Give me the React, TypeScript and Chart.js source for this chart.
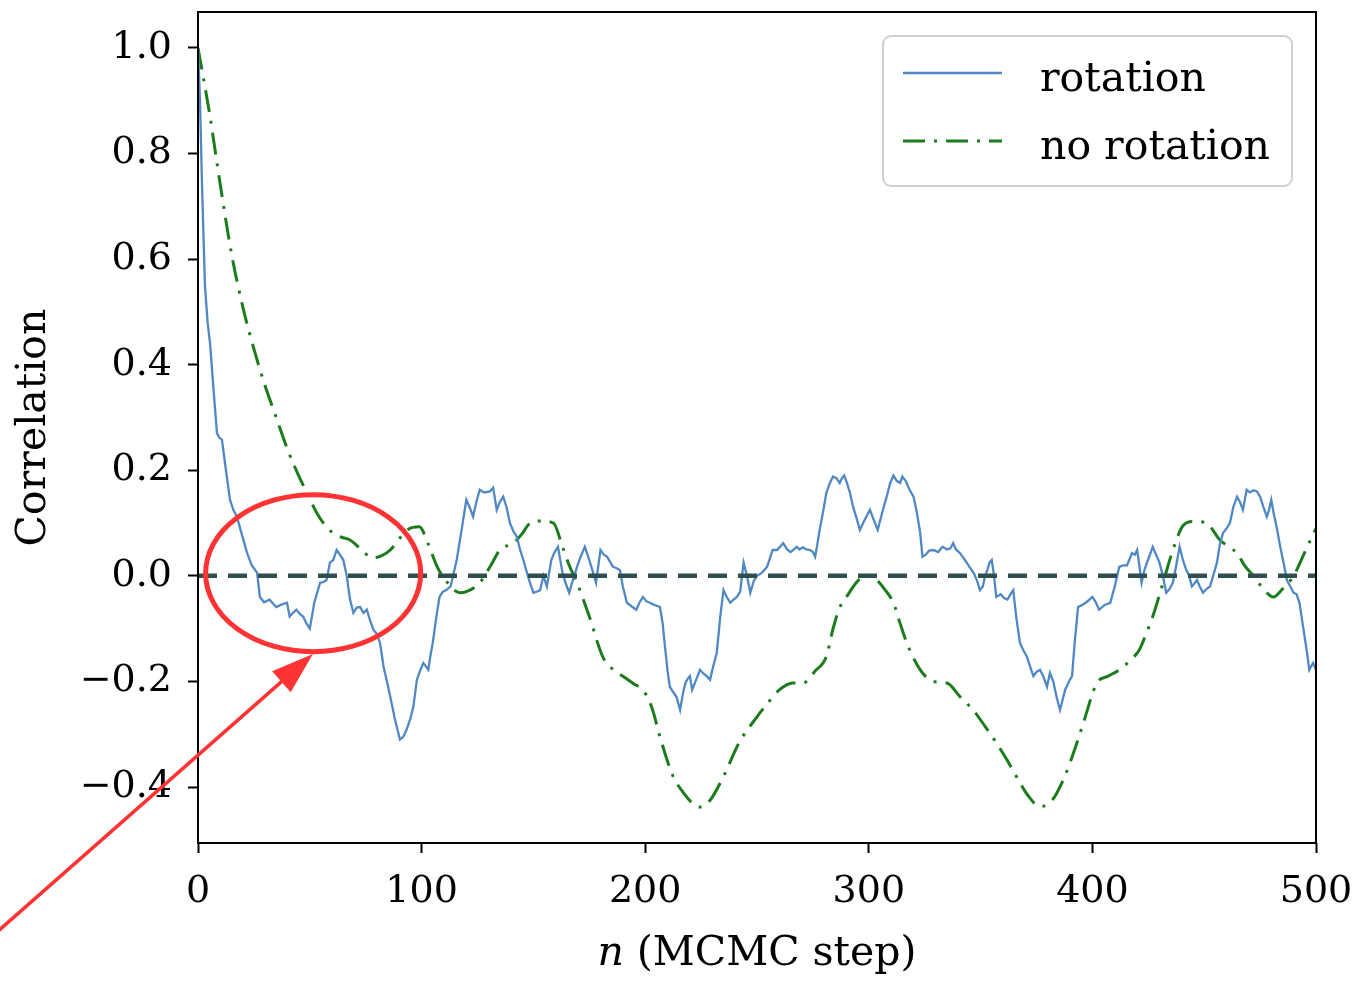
import React, { useEffect, useRef } from "react";
import { Chart, registerables } from "chart.js";

Chart.register(...registerables);

// ---------------- data ----------------
const rotationX = [
  0, 0.9, 1.8, 3.1, 4.3, 5.4, 7, 8.5, 9.5, 10.7, 12.5, 14.3, 15.8, 17.4, 19.5, 21.9, 24, 26.4, 27.7, 29.5,
  32, 35, 37, 39.8, 41, 42.5, 44, 45.5, 47, 48.5, 50, 52, 54.6, 56, 57.5, 59, 60.5, 62, 63.5, 65,
  66.5, 68, 69.5, 71, 72.5, 74, 75.5, 77, 78.4, 80, 81.4, 83, 84.5, 86, 88, 90.3, 91.8, 93.4, 95, 96.3,
  97.9, 99.3, 100.8, 102, 103, 104, 105, 106.5, 108, 109.5, 111, 113, 115.7, 118, 120, 121.5, 123, 124.5, 126, 128,
  130.6, 132, 133.6, 135, 136.5, 138, 139.5, 141, 142.6, 144, 145.5, 147.5, 149, 150, 151.5, 153, 154.5, 156, 158, 159.5,
  161, 163, 164.5, 166, 167.5, 169.5, 171, 173, 175, 176.7, 178, 180, 181.5, 183, 185.6, 187, 188.7, 190, 191.8, 194,
  196, 197.5, 199, 200.5, 202, 204, 206.6, 207.8, 209, 210, 211, 212.5, 214, 215.6, 217, 218, 219, 220, 221, 222.5,
  224.5, 226, 227.5, 229, 230.5, 232, 233.5, 235, 236.5, 238, 239.5, 241, 242.5, 244, 245.5, 247, 248.5, 250, 252, 254.5,
  257, 259, 261.7, 263.5, 265, 266.5, 267.8, 269, 270.5, 272, 273.7, 275, 276, 277, 278, 279.5, 281, 282.5, 284, 285.5,
  287, 288, 289, 290.3, 291.6, 293, 294.5, 296, 298, 300.5, 302.3, 304, 306, 308, 309.5, 311, 312.5, 314, 315, 316.5,
  318, 320, 321.5, 323, 324, 325.5, 327, 329, 331, 333, 335, 336.5, 337.7, 339, 340.8, 343, 345, 347, 348.5, 349.7,
  351, 352, 353, 354, 355, 356, 357, 359, 360.5, 362, 363.3, 364.6, 366, 367.6, 369, 370.7, 372, 373.6, 375, 376.6,
  378, 379.7, 381, 382.5, 384, 385.5, 387.8, 389.5, 390.9, 392, 393.6, 395.5, 397.6, 400, 401.5, 403, 405.5, 408, 410, 412,
  413.8, 415.5, 417.7, 419, 420, 421, 422, 423.2, 424.4, 425.7, 427, 428.5, 430, 431.5, 433, 434.5, 436, 437.5, 439, 440.5,
  442, 443.3, 444.5, 445.5, 446.8, 448, 449.5, 451, 452.6, 454, 455.7, 457, 458.4, 460, 461.5, 463, 464.7, 466, 467.3, 468.2,
  469, 470.5, 472, 473.6, 475, 476.5, 478, 479, 480, 481, 482.5, 484, 485.5, 487, 488.5, 490, 491.3, 492.6, 494, 495.8,
  497, 498, 498.7, 500,
];
const rotationY = [
  1.0, 0.9, 0.74, 0.55, 0.48, 0.44, 0.35, 0.27, 0.262, 0.258, 0.2, 0.144, 0.125, 0.112, 0.08, 0.044, 0.02, 0.006, -0.04, -0.05,
  -0.045, -0.059, -0.055, -0.051, -0.077, -0.07, -0.064, -0.072, -0.077, -0.09, -0.1, -0.051, -0.013, -0.012, -0.008, 0.025, 0.03, 0.049, 0.04, 0.03,
  0.0, -0.045, -0.07, -0.06, -0.059, -0.07, -0.064, -0.085, -0.102, -0.11, -0.127, -0.172, -0.2, -0.229, -0.27, -0.31, -0.305, -0.29, -0.27, -0.248,
  -0.197, -0.18, -0.165, -0.172, -0.178, -0.15, -0.127, -0.08, -0.04, -0.03, -0.027, -0.02, 0.03, 0.09, 0.144, 0.13, 0.112, 0.14, 0.163, 0.158,
  0.16, 0.167, 0.125, 0.14, 0.15, 0.13, 0.1, 0.085, 0.074, 0.05, 0.03, 0.0, -0.02, -0.032, -0.03, -0.027, 0.0, -0.02, 0.03, 0.045,
  0.055, 0.006, -0.015, -0.032, -0.01, 0.017, 0.035, 0.055, 0.03, 0.006, -0.013, 0.049, 0.04, 0.036, 0.017, 0.015, 0.011, -0.02, -0.051, -0.058,
  -0.064, -0.05, -0.04, -0.048, -0.051, -0.055, -0.059, -0.09, -0.14, -0.18, -0.21, -0.22, -0.229, -0.254, -0.22, -0.203, -0.195, -0.19, -0.216, -0.2,
  -0.178, -0.185, -0.19, -0.197, -0.17, -0.146, -0.08, -0.027, -0.04, -0.051, -0.045, -0.04, -0.03, 0.025, 0.0, -0.032, -0.01, 0.0, 0.005, 0.017,
  0.049, 0.049, 0.062, 0.05, 0.045, 0.05, 0.055, 0.05, 0.054, 0.05, 0.049, 0.045, 0.036, 0.06, 0.087, 0.12, 0.157, 0.175, 0.188, 0.185,
  0.176, 0.185, 0.19, 0.175, 0.157, 0.13, 0.11, 0.087, 0.105, 0.125, 0.105, 0.087, 0.12, 0.15, 0.175, 0.19, 0.18, 0.176, 0.188, 0.18,
  0.165, 0.15, 0.12, 0.081, 0.036, 0.04, 0.048, 0.049, 0.045, 0.055, 0.05, 0.052, 0.062, 0.05, 0.043, 0.03, 0.017, 0.005, -0.01, -0.027,
  -0.02, 0.0, 0.011, 0.025, 0.03, 0.0, -0.04, -0.035, -0.042, -0.045, -0.035, -0.027, -0.08, -0.127, -0.14, -0.153, -0.17, -0.19, -0.182, -0.178,
  -0.19, -0.21, -0.184, -0.2, -0.23, -0.254, -0.216, -0.2, -0.19, -0.13, -0.059, -0.055, -0.049, -0.04, -0.05, -0.064, -0.055, -0.051, -0.02, 0.017,
  0.02, 0.02, 0.043, 0.04, 0.049, 0.02, -0.013, 0.01, 0.025, 0.04, 0.055, 0.04, 0.025, 0.0, -0.032, -0.025, -0.013, 0.02, 0.055, 0.03,
  0.011, 0.0, -0.02, -0.015, -0.008, -0.02, -0.032, -0.025, -0.02, 0.0, 0.025, 0.06, 0.081, 0.09, 0.1, 0.13, 0.15, 0.14, 0.125, 0.145,
  0.163, 0.158, 0.162, 0.16, 0.15, 0.13, 0.112, 0.125, 0.144, 0.12, 0.09, 0.055, 0.025, -0.008, -0.02, -0.032, -0.035, -0.051, -0.09, -0.14,
  -0.178, -0.17, -0.165, -0.178,
];

const noRotationX = [
  0, 5, 10, 15, 20, 25, 30, 35, 40, 45, 49, 53, 58, 63, 68, 73, 78, 82, 86, 90,
  94, 99, 103, 107, 112, 117, 120, 126, 131, 135, 141, 145, 148.5, 153, 159, 163, 166, 169.5, 175, 181,
  185, 190, 195, 199, 203, 206.6, 212.5, 217, 221, 224.5, 229, 235, 242, 250, 255, 260, 266, 270.6, 276, 281,
  284, 287, 290, 295, 299, 303, 307, 311, 314, 317, 323, 329, 335, 341, 346.6, 352, 357, 362, 366, 371,
  376.6, 382, 387, 392, 396, 402, 407, 412, 417, 421, 424, 427, 431.6, 436, 440.5, 445, 451, 457, 461, 464.7,
  468, 472, 476, 481, 485, 490, 495, 500,
];
const noRotationY = [
  1.0, 0.88, 0.74, 0.61, 0.51, 0.43, 0.36, 0.3, 0.24, 0.19, 0.155, 0.12, 0.09, 0.075, 0.068, 0.05, 0.034, 0.038, 0.049, 0.07,
  0.088, 0.093, 0.06, 0.017, -0.015, -0.032, -0.03, -0.013, 0.02, 0.049, 0.062, 0.08, 0.1, 0.104, 0.1, 0.055, 0.02, -0.013, -0.077, -0.153,
  -0.175, -0.19, -0.205, -0.216, -0.25, -0.305, -0.38, -0.41, -0.43, -0.438, -0.425, -0.38, -0.316, -0.267, -0.24, -0.216, -0.203, -0.203, -0.18, -0.153,
  -0.1, -0.06, -0.04, -0.01, 0.0, -0.006, -0.025, -0.051, -0.09, -0.127, -0.178, -0.2, -0.203, -0.23, -0.254, -0.285, -0.316, -0.35, -0.38, -0.415,
  -0.437, -0.425, -0.386, -0.33, -0.278, -0.203, -0.19, -0.178, -0.16, -0.14, -0.11, -0.077, -0.013, 0.049, 0.095, 0.103, 0.1, 0.068, 0.055, 0.043,
  0.02, 0.0, -0.022, -0.04, -0.025, 0.0, 0.045, 0.09,
];

const zeroLineX = [0, 500];
const zeroLineY = [0, 0];

const xTickValues = [0, 100, 200, 300, 400, 500];
const yTickValues = [-0.4, -0.2, 0.0, 0.2, 0.4, 0.6, 0.8, 1.0];
const seriesLabels = ["rotation", "no rotation"];
const xTitleVar = "n";
const xTitleRest = " (MCMC step)";
const yTitle = "Correlation";

// annotation (red ellipse + arrow), in data units
const ellipseCenter = [51.5, 0.005];
const ellipseRadii = [48.1, 0.1487];
const arrowFrom = [-90, -0.675];
const arrowTo = [51.4, -0.148];

// ---------------- styles ----------------
const FONT = '"DejaVu Serif", serif';
const BLUE = "#5088c4";
const GREEN = "#1c7c1c";
const ZERO = "#2f4f4f";
const RED = "#ff3333";
const GREEN_DASH = [22, 9, 3, 9];
const ZERO_DASH = [19, 11];

const toPoints = (xs: number[], ys: number[]) => xs.map((x, i) => ({ x, y: ys[i] }));
const fmt = (v: number) => {
  const s = Math.abs(v).toFixed(1);
  return v < -1e-9 ? "\u2212" + s : s;
};

const overlayPlugin = {
  id: "overlay",
  afterDraw(chart: any) {
    const { ctx, chartArea: a, scales } = chart;
    const sx = scales.x;
    const sy = scales.y;
    ctx.save();

    // frame
    ctx.strokeStyle = "#000";
    ctx.lineWidth = 2;
    ctx.setLineDash([]);
    ctx.strokeRect(a.left, a.top, a.right - a.left, a.bottom - a.top);

    // legend
    const bw = 409, bh = 150;
    const bx = a.right - 24 - bw;
    const by = a.top + 24;
    ctx.beginPath();
    ctx.roundRect(bx, by, bw, bh, 8);
    ctx.fillStyle = "rgba(255,255,255,0.85)";
    ctx.fill();
    ctx.strokeStyle = "#d0d0d0";
    ctx.lineWidth = 2;
    ctx.stroke();
    const ds = chart.data.datasets;
    const rows = [by + 37, by + 105];
    [0, 1].forEach((i) => {
      const d = ds[i];
      const y = rows[i];
      ctx.beginPath();
      ctx.setLineDash(d.borderDash || []);
      ctx.lineWidth = d.borderWidth;
      ctx.strokeStyle = d.borderColor;
      ctx.moveTo(bx + 20, y);
      ctx.lineTo(bx + 119, y);
      ctx.stroke();
      ctx.setLineDash([]);
      ctx.fillStyle = "#000";
      ctx.font = `41px ${FONT}`;
      ctx.textAlign = "left";
      ctx.textBaseline = "alphabetic";
      ctx.fillText(d.label, bx + 157, y + 18);
    });

    // x axis title with italic variable
    ctx.fillStyle = "#000";
    ctx.textBaseline = "alphabetic";
    ctx.textAlign = "left";
    ctx.font = `italic 41px ${FONT}`;
    const w1 = ctx.measureText(xTitleVar).width;
    ctx.font = `41px ${FONT}`;
    const w2 = ctx.measureText(xTitleRest).width;
    const cx = (a.left + a.right) / 2;
    const ty = a.bottom + 122;
    ctx.font = `italic 41px ${FONT}`;
    ctx.fillText(xTitleVar, cx - (w1 + w2) / 2, ty);
    ctx.font = `41px ${FONT}`;
    ctx.fillText(xTitleRest, cx - (w1 + w2) / 2 + w1, ty);

    // red annotation
    const ex = sx.getPixelForValue(ellipseCenter[0]);
    const ey = sy.getPixelForValue(ellipseCenter[1]);
    const rx = Math.abs(sx.getPixelForValue(ellipseCenter[0] + ellipseRadii[0]) - ex);
    const ry = Math.abs(sy.getPixelForValue(ellipseCenter[1] + ellipseRadii[1]) - ey);
    ctx.strokeStyle = RED;
    ctx.fillStyle = RED;
    ctx.lineWidth = 5;
    ctx.beginPath();
    ctx.ellipse(ex, ey, rx, ry, 0, 0, Math.PI * 2);
    ctx.stroke();

    const x0 = sx.getPixelForValue(arrowFrom[0]);
    const y0 = sy.getPixelForValue(arrowFrom[1]);
    const x1 = sx.getPixelForValue(arrowTo[0]);
    const y1 = sy.getPixelForValue(arrowTo[1]);
    const len = Math.hypot(x1 - x0, y1 - y0);
    const ux = (x1 - x0) / len, uy = (y1 - y0) / len;
    const headL = 42, headW = 14;
    const baseX = x1 - ux * headL, baseY = y1 - uy * headL;
    ctx.lineWidth = 3.5;
    ctx.beginPath();
    ctx.moveTo(x0, y0);
    ctx.lineTo(baseX + ux * 4, baseY + uy * 4);
    ctx.stroke();
    ctx.beginPath();
    ctx.moveTo(x1, y1);
    ctx.lineTo(baseX - uy * headW, baseY + ux * headW);
    ctx.lineTo(baseX + uy * headW, baseY - ux * headW);
    ctx.closePath();
    ctx.fill();

    ctx.restore();
  },
};

export default function App() {
  const ref = useRef<HTMLCanvasElement | null>(null);

  useEffect(() => {
    if (!ref.current) return;
    const chart = new Chart(ref.current, {
      type: "line",
      data: {
        datasets: [
          {
            label: seriesLabels[0],
            data: toPoints(rotationX, rotationY),
            borderColor: BLUE,
            borderWidth: 2.3,
            pointRadius: 0,
            tension: 0,
            fill: false,
            order: 1,
          },
          {
            label: seriesLabels[1],
            data: toPoints(noRotationX, noRotationY),
            borderColor: GREEN,
            borderWidth: 3,
            borderDash: GREEN_DASH,
            pointRadius: 0,
            tension: 0.3,
            cubicInterpolationMode: "monotone",
            fill: false,
            order: 2,
          },
          {
            label: "zero",
            data: toPoints(zeroLineX, zeroLineY),
            borderColor: ZERO,
            borderWidth: 4.5,
            borderDash: ZERO_DASH,
            pointRadius: 0,
            fill: false,
            order: 0,
          },
        ],
      } as any,
      options: {
        animation: false,
        responsive: false,
        devicePixelRatio: 1,
        layout: { padding: { left: 0, top: 12, right: 40, bottom: 0 } },
        plugins: {
          legend: { display: false },
          tooltip: { enabled: false },
        },
        scales: {
          x: {
            type: "linear",
            min: 0,
            max: 500,
            afterBuildTicks: (axis: any) => {
              axis.ticks = xTickValues.map((v) => ({ value: v }));
            },
            afterFit: (axis: any) => {
              axis.height = 142;
              axis.paddingLeft = 0;
              axis.paddingRight = 0;
            },
            border: { display: false },
            grid: {
              drawOnChartArea: false,
              drawTicks: true,
              tickLength: 10,
              tickWidth: 2,
              tickColor: "#000",
            },
            ticks: {
              color: "#000",
              font: { family: FONT, size: 38 },
              padding: 16,
              maxRotation: 0,
              autoSkip: false,
              callback: (v: any) => String(v),
            },
            title: { display: false },
          },
          y: {
            type: "linear",
            min: -0.506,
            max: 1.068,
            afterBuildTicks: (axis: any) => {
              axis.ticks = yTickValues.map((v) => ({ value: v }));
            },
            afterFit: (axis: any) => {
              axis.width = 198;
              axis.paddingTop = 0;
              axis.paddingBottom = 0;
            },
            border: { display: false },
            grid: {
              drawOnChartArea: false,
              drawTicks: true,
              tickLength: 10,
              tickWidth: 2,
              tickColor: "#000",
            },
            ticks: {
              color: "#000",
              font: { family: FONT, size: 38 },
              padding: 16,
              autoSkip: false,
              callback: (v: any) => fmt(Number(v)),
            },
            title: {
              display: true,
              text: yTitle,
              color: "#000",
              font: { family: FONT, size: 41 },
              padding: { top: 10, bottom: 0 },
            },
          },
        },
      } as any,
      plugins: [overlayPlugin],
    });
    return () => chart.destroy();
  }, []);

  return (
    <div style={{ position: "fixed", left: 0, top: 0, width: 1356, height: 985, background: "#fff" }}>
      <canvas ref={ref} width={1356} height={985} style={{ width: 1356, height: 985, display: "block" }} />
    </div>
  );
}
